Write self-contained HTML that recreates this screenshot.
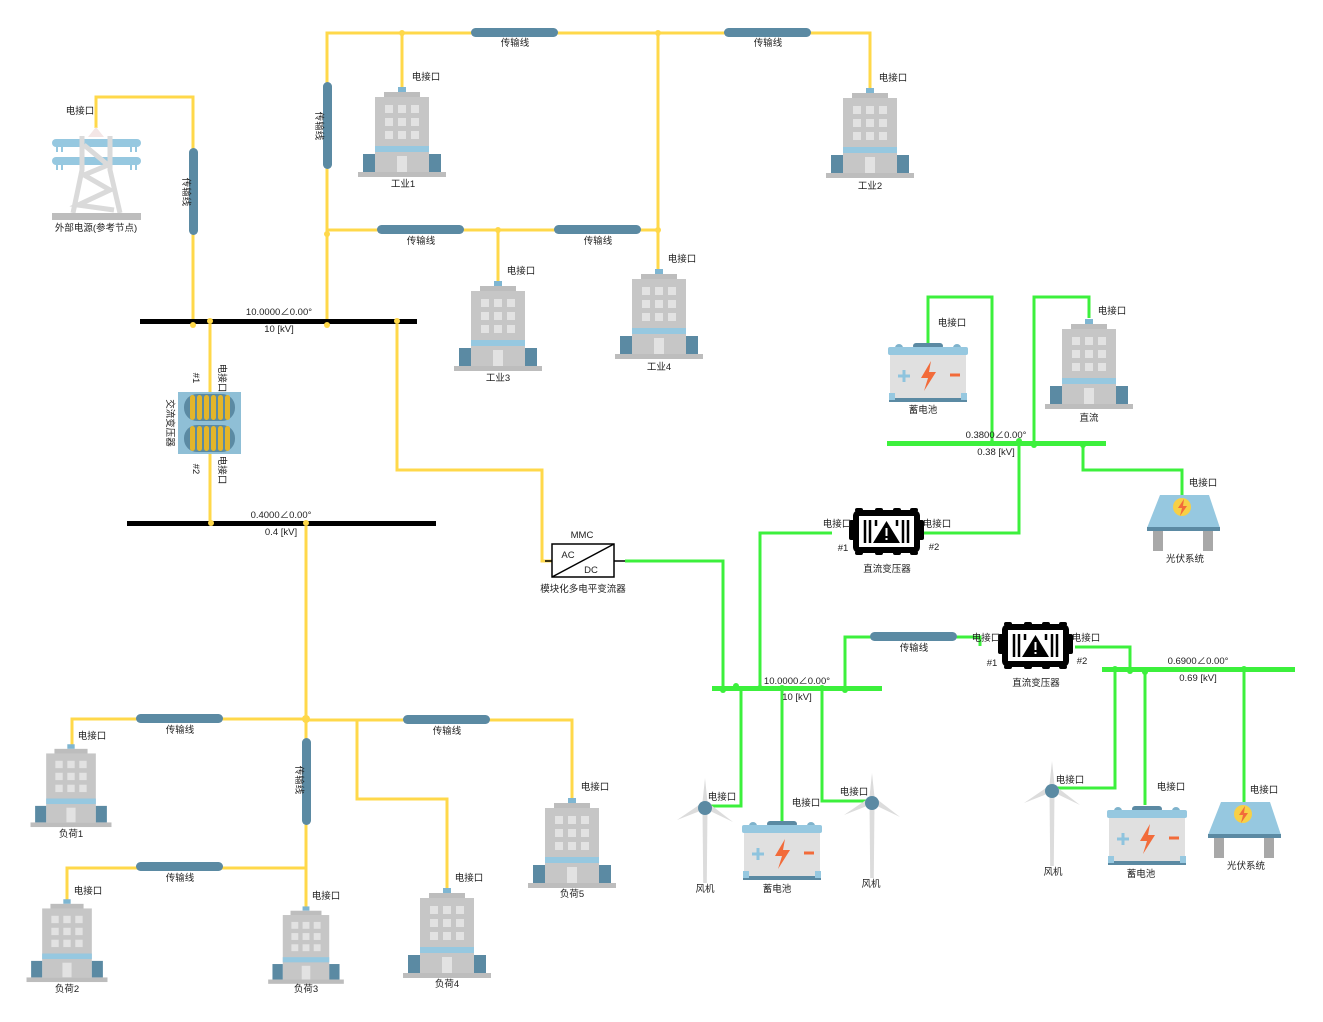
<!DOCTYPE html>
<html><head><meta charset="utf-8">
<style>
html,body{margin:0;padding:0;background:#fff;}
svg{display:block;}
text{font-family:"Liberation Sans","Noto Sans CJK SC",sans-serif;font-size:9.5px;fill:#222;}
.y{stroke:#ffd84a;stroke-width:3;fill:none;}
.g{stroke:#3cf03c;stroke-width:3;fill:none;}
.cap{fill:#5b8aa3;}
.m{text-anchor:middle;}
</style></head><body>
<svg width="1323" height="1022" viewBox="0 0 1323 1022" xmlns="http://www.w3.org/2000/svg">
<defs>
<g id="bld">
  <rect x="-4" y="-3" width="8" height="5" fill="#7fb6d2"/>
  <rect x="-18" y="2" width="36" height="6" fill="#bdbdbd"/>
  <rect x="-27" y="7" width="54" height="75" fill="#c6c6c6"/>
  <g fill="#e2e2e2">
    <rect x="-17" y="15" width="8" height="8"/><rect x="-4" y="15" width="8" height="8"/><rect x="9" y="15" width="8" height="8"/>
    <rect x="-17" y="28" width="8" height="8"/><rect x="-4" y="28" width="8" height="8"/><rect x="9" y="28" width="8" height="8"/>
    <rect x="-17" y="41" width="8" height="8"/><rect x="-4" y="41" width="8" height="8"/><rect x="9" y="41" width="8" height="8"/>
    <rect x="-5" y="66" width="10" height="16"/>
  </g>
  <rect x="-27" y="56" width="54" height="6" fill="#96c8e0"/>
  <rect x="-39" y="64" width="12" height="18" fill="#5b8aa3"/>
  <rect x="27" y="64" width="12" height="18" fill="#5b8aa3"/>
  <rect x="-44" y="82" width="88" height="5" fill="#bdbdbd"/>
</g>
<g id="bat">
  <circle cx="11" cy="5" r="4" fill="#7fb3cc"/><circle cx="69" cy="5" r="4" fill="#7fb3cc"/>
  <rect x="25" y="0" width="30" height="6" rx="3" fill="#5b8aa3"/>
  <rect x="0" y="4" width="80" height="8" rx="2" fill="#96c8e0"/>
  <rect x="2" y="12" width="76" height="44" fill="#e0e0e0"/>
  <rect x="1" y="55" width="78" height="4" fill="#5b8aa3"/>
  <rect x="1" y="50" width="6" height="7" fill="#96c8e0"/><rect x="73" y="50" width="6" height="7" fill="#96c8e0"/>
  <path d="M10 33 h12 M16 27 v12" stroke="#8fc4de" stroke-width="3"/>
  <path d="M43 18 L33 35 L40 35 L36 48 L48 29 L41 29 Z" fill="#f26b3a"/>
  <path d="M62 32 h10" stroke="#f26b3a" stroke-width="3"/>
</g>
<g id="wt">
  <path d="M-2.5 0 L2.5 0 L1.8 75 L-1.8 75 Z" fill="#dcdcdc"/>
  <path d="M0 0 L-2.5 -6 L0 -30 L2.5 -6 Z" fill="#dcdcdc"/>
  <path d="M0 0 L-5 3 L-28 12 L-6 -3 Z" fill="#dcdcdc"/>
  <path d="M0 0 L5 3 L28 14 L6 -3 Z" fill="#dcdcdc"/>
  <circle cx="0" cy="0" r="7" fill="#5b8aa3"/>
</g>
<g id="pv">
  <path d="M-22 0 H27 L38 33 H-35 Z" fill="#96c8e0"/>
  <rect x="-35" y="32" width="73" height="4" fill="#5b8aa3"/>
  <rect x="-29" y="36" width="10" height="20" fill="#a8a8a8"/>
  <rect x="21" y="36" width="10" height="20" fill="#a8a8a8"/>
  <circle cx="0" cy="12" r="9" fill="#f7d046"/>
  <path d="M2 4 L-4 13 L0 13 L-2 21 L5 11 L1 11 Z" fill="#f26b3a"/>
</g>
<g id="dct">
  <rect x="2" y="-2" width="8" height="4" rx="2" fill="#000"/><rect x="22" y="-2" width="8" height="4" rx="2" fill="#000"/><rect x="40" y="-2" width="8" height="4" rx="2" fill="#000"/><rect x="57" y="-2" width="8" height="4" rx="2" fill="#000"/>
  <rect x="2" y="41" width="8" height="4" rx="2" fill="#000"/><rect x="22" y="41" width="8" height="4" rx="2" fill="#000"/><rect x="40" y="41" width="8" height="4" rx="2" fill="#000"/><rect x="57" y="41" width="8" height="4" rx="2" fill="#000"/>
  <rect x="-4" y="10" width="6" height="20" rx="2" fill="#000"/><rect x="65" y="10" width="6" height="20" rx="2" fill="#000"/>
  <rect x="0" y="0" width="67" height="43" rx="6" fill="#000"/>
  <rect x="6" y="6" width="55" height="31" fill="#fff"/>
  <g stroke="#000" stroke-width="2.5"><path d="M12 10 V33 M17 10 V33 M50 10 V33 M55 10 V33 M23 10 V16 M44 10 V16"/></g>
  <path d="M33.5 11 L47 33 L20 33 Z" fill="#000"/>
  <rect x="32.5" y="18" width="2" height="8" fill="#fff"/><rect x="32.5" y="28" width="2" height="2" fill="#fff"/>
</g>
</defs>

<!-- ===== YELLOW AC NETWORK ===== -->
<path class="y" d="M96 128 V97 H193 V321"/>
<rect class="cap" x="189" y="148" width="9" height="87" rx="4.5"/>
<text transform="translate(183,192) rotate(90)" class="m">传输线</text>

<path class="y" d="M327 321 V33 H870 V89"/>
<rect class="cap" x="323" y="82" width="9" height="87" rx="4.5"/>
<text transform="translate(316,126) rotate(90)" class="m">传输线</text>
<rect class="cap" x="471" y="28" width="87" height="9" rx="4.5"/>
<text x="515" y="46" class="m">传输线</text>
<rect class="cap" x="724" y="28" width="87" height="9" rx="4.5"/>
<text x="768" y="46" class="m">传输线</text>
<path class="y" d="M402 33 V88"/>
<path class="y" d="M658 33 V270"/>
<path class="y" d="M327 230 H658"/>
<rect class="cap" x="377" y="225" width="87" height="9" rx="4.5"/>
<text x="421" y="244" class="m">传输线</text>
<rect class="cap" x="554" y="225" width="87" height="9" rx="4.5"/>
<text x="598" y="244" class="m">传输线</text>
<path class="y" d="M498 230 V282"/>
<g fill="#ffd84a"><circle cx="402" cy="33" r="3"/><circle cx="658" cy="33" r="3"/><circle cx="327" cy="234" r="3"/><circle cx="498" cy="230" r="3"/><circle cx="658" cy="230" r="3"/></g>

<path class="y" d="M210 321 V392 M210 454 V523"/>
<path class="y" d="M397 321 V470 H542 V561 H552"/>

<path class="y" d="M306 523 V907"/>
<rect class="cap" x="302" y="738" width="9" height="87" rx="4.5"/>
<text transform="translate(296,780) rotate(90)" class="m">传输线</text>
<path class="y" d="M306 719 H72 V745"/>
<rect class="cap" x="136" y="714" width="87" height="9" rx="4.5"/>
<text x="180" y="733" class="m">传输线</text>
<path class="y" d="M306 720 H572 V799"/>
<rect class="cap" x="403" y="715" width="87" height="9" rx="4.5"/>
<text x="447" y="734" class="m">传输线</text>
<path class="y" d="M357 720 V799 H447 V889"/>
<path class="y" d="M306 868 H67 V900"/>
<rect class="cap" x="136" y="862" width="87" height="9" rx="4.5"/>
<text x="180" y="881" class="m">传输线</text>
<circle cx="306" cy="719" r="4" fill="#ffd84a"/>

<!-- buses black -->
<rect x="140" y="319" width="277" height="5" fill="#000"/>
<text x="279" y="315" class="m">10.0000∠0.00°</text>
<text x="279" y="332" class="m">10 [kV]</text>
<rect x="127" y="521" width="309" height="5" fill="#000"/>
<text x="281" y="518" class="m">0.4000∠0.00°</text>
<text x="281" y="535" class="m">0.4 [kV]</text>
<g fill="#ffd84a"><circle cx="193" cy="325" r="3"/><circle cx="210" cy="321" r="3"/><circle cx="327" cy="325" r="3"/><circle cx="397" cy="321" r="3"/><circle cx="211" cy="523" r="3"/><circle cx="306" cy="523" r="3"/></g>

<!-- ===== GREEN DC NETWORK ===== -->
<path class="g" d="M625 561 H723 V688"/>
<path class="g" d="M760 688 V533 H832"/>
<path class="g" d="M921 533 H1019 V443"/>
<path class="g" d="M928 343 V297 H992 V443"/>
<path class="g" d="M1089 318 V297 H1034 V443"/>
<path class="g" d="M1083 443 V470 H1182 V495"/>
<path class="g" d="M845 688 V637 H980 V646"/>
<rect class="cap" x="870" y="632" width="87" height="9" rx="4.5"/>
<text x="914" y="651" class="m">传输线</text>
<path class="g" d="M1075 647 H1130 V669"/>
<path class="g" d="M1115 669 V788 H1055"/>
<path class="g" d="M1145 669 V805"/>
<path class="g" d="M1244 669 V805"/>
<path class="g" d="M741 688 V806 H710"/>
<path class="g" d="M782 688 V822"/>
<path class="g" d="M822 688 V801 H866"/>

<rect x="712" y="686" width="170" height="5" fill="#3cf03c"/>
<text x="797" y="684" class="m">10.0000∠0.00°</text>
<text x="797" y="700" class="m">10 [kV]</text>
<rect x="887" y="441" width="219" height="5" fill="#3cf03c"/>
<text x="996" y="438" class="m">0.3800∠0.00°</text>
<text x="996" y="455" class="m">0.38 [kV]</text>
<rect x="1102" y="667" width="193" height="5" fill="#3cf03c"/>
<text x="1198" y="664" class="m">0.6900∠0.00°</text>
<text x="1198" y="681" class="m">0.69 [kV]</text>

<!-- ===== COMPONENTS ===== -->
<g>
  <path d="M88 137 L96 127 L104 137 Z" fill="#f3e6e6"/>
  <rect x="52" y="139" width="89" height="8" rx="4" fill="#96c8e0"/>
  <rect x="52" y="157" width="89" height="8" rx="4" fill="#96c8e0"/>
  <g fill="#96c8e0"><rect x="56" y="147" width="2" height="5"/><rect x="61" y="147" width="2" height="5"/><rect x="130" y="147" width="2" height="5"/><rect x="135" y="147" width="2" height="5"/><rect x="56" y="165" width="2" height="5"/><rect x="61" y="165" width="2" height="5"/><rect x="130" y="165" width="2" height="5"/><rect x="135" y="165" width="2" height="5"/></g>
  <g stroke="#dadada" stroke-width="5" fill="none"><path d="M82 136 L82 170 L73 213 M110 136 L110 170 L120 213 M84 145 L108 165 L84 175 L110 190 L78 205 L114 210"/></g>
  <rect x="52" y="213" width="89" height="7" fill="#bdbdbd"/>
</g>
<text x="96" y="231" class="m">外部电源(参考节点)</text>
<text x="80" y="114" class="m">电接口</text>

<!-- AC transformer -->
<rect x="178" y="392" width="63" height="62" fill="#8fbfd6"/>
<rect x="184" y="394" width="51" height="27" rx="13" fill="#5b8aa3"/>
<rect x="184" y="425" width="51" height="27" rx="13" fill="#5b8aa3"/>
<g fill="#e3b52a"><rect x="190" y="395" width="5" height="25" rx="2.5"/><rect x="197" y="395" width="5" height="25" rx="2.5"/><rect x="204" y="395" width="5" height="25" rx="2.5"/><rect x="211" y="395" width="5" height="25" rx="2.5"/><rect x="218" y="395" width="5" height="25" rx="2.5"/><rect x="225" y="395" width="5" height="25" rx="2.5"/>
<rect x="190" y="426" width="5" height="25" rx="2.5"/><rect x="197" y="426" width="5" height="25" rx="2.5"/><rect x="204" y="426" width="5" height="25" rx="2.5"/><rect x="211" y="426" width="5" height="25" rx="2.5"/><rect x="218" y="426" width="5" height="25" rx="2.5"/><rect x="225" y="426" width="5" height="25" rx="2.5"/></g>
<text transform="translate(167,423) rotate(90)" class="m">交流变压器</text>
<text transform="translate(193,378) rotate(90)" class="m">#1</text>
<text transform="translate(193,469) rotate(90)" class="m">#2</text>
<text transform="translate(219,378) rotate(90)" class="m">电接口</text>
<text transform="translate(219,470) rotate(90)" class="m">电接口</text>

<!-- MMC -->
<rect x="552" y="544" width="62" height="33" fill="#fff" stroke="#000" stroke-width="1.5"/>
<path d="M552 577 L614 544" stroke="#000" stroke-width="1.5"/>
<path d="M614 561 H625" stroke="#000" stroke-width="1.5"/>
<path d="M545 561 H552" stroke="#000" stroke-width="1.5"/>
<text x="568" y="558" class="m">AC</text>
<text x="591" y="573" class="m">DC</text>
<text x="582" y="538" class="m">MMC</text>
<text x="583" y="592" class="m">模块化多电平变流器</text>

<!-- buildings -->
<use href="#bld" x="402" y="90"/><text x="403" y="187" class="m">工业1</text><text x="426" y="80" class="m">电接口</text>
<use href="#bld" x="870" y="91"/><text x="870" y="189" class="m">工业2</text><text x="893" y="81" class="m">电接口</text>
<use href="#bld" x="498" y="284"/><text x="498" y="381" class="m">工业3</text><text x="521" y="274" class="m">电接口</text>
<use href="#bld" x="659" y="272"/><text x="659" y="370" class="m">工业4</text><text x="682" y="262" class="m">电接口</text>
<use href="#bld" x="1089" y="322"/><text x="1089" y="421" class="m">直流</text><text x="1112" y="314" class="m">电接口</text>
<use href="#bld" transform="translate(71,747) scale(0.92)"/><text x="71" y="837" class="m">负荷1</text><text x="92" y="739" class="m">电接口</text>
<use href="#bld" transform="translate(67,902) scale(0.92)"/><text x="67" y="992" class="m">负荷2</text><text x="88" y="894" class="m">电接口</text>
<use href="#bld" transform="translate(306,909) scale(0.86)"/><text x="306" y="992" class="m">负荷3</text><text x="326" y="899" class="m">电接口</text>
<use href="#bld" x="447" y="891"/><text x="447" y="987" class="m">负荷4</text><text x="469" y="881" class="m">电接口</text>
<use href="#bld" x="572" y="801"/><text x="572" y="897" class="m">负荷5</text><text x="595" y="790" class="m">电接口</text>

<!-- batteries -->
<use href="#bat" x="888" y="343"/><text x="923" y="413" class="m">蓄电池</text><text x="952" y="326" class="m">电接口</text>
<use href="#bat" x="742" y="821"/><text x="777" y="892" class="m">蓄电池</text><text x="806" y="806" class="m">电接口</text>
<use href="#bat" x="1107" y="806"/><text x="1141" y="877" class="m">蓄电池</text><text x="1171" y="790" class="m">电接口</text>

<!-- turbines -->
<use href="#wt" x="705" y="808"/><text x="705" y="892" class="m">风机</text><text x="722" y="800" class="m">电接口</text>
<use href="#wt" x="872" y="803"/><text x="871" y="887" class="m">风机</text><text x="854" y="795" class="m">电接口</text>
<use href="#wt" x="1052" y="791"/><text x="1053" y="875" class="m">风机</text><text x="1070" y="783" class="m">电接口</text>

<!-- PV -->
<use href="#pv" x="1182" y="495"/><text x="1185" y="562" class="m">光伏系统</text><text x="1203" y="486" class="m">电接口</text>
<use href="#pv" x="1243" y="802"/><text x="1246" y="869" class="m">光伏系统</text><text x="1264" y="793" class="m">电接口</text>

<!-- DC transformers -->
<use href="#dct" x="853" y="510"/>
<text x="887" y="572" class="m">直流变压器</text><text x="843" y="551" class="m">#1</text><text x="934" y="550" class="m">#2</text>
<text x="837" y="527" class="m">电接口</text><text x="937" y="527" class="m">电接口</text>
<use href="#dct" x="1002" y="624"/>
<text x="1036" y="686" class="m">直流变压器</text><text x="992" y="666" class="m">#1</text><text x="1082" y="664" class="m">#2</text>
<text x="986" y="641" class="m">电接口</text><text x="1086" y="641" class="m">电接口</text>

<g fill="#3cf03c"><circle cx="723" cy="690" r="3"/><circle cx="736" cy="686" r="3"/><circle cx="760" cy="688" r="3"/><circle cx="782" cy="688" r="3"/><circle cx="822" cy="688" r="3"/><circle cx="845" cy="690" r="3"/><circle cx="992" cy="443" r="3"/><circle cx="1019" cy="441" r="3"/><circle cx="1034" cy="445" r="3"/><circle cx="1083" cy="445" r="3"/><circle cx="1115" cy="669" r="3"/><circle cx="1130" cy="671" r="3"/><circle cx="1145" cy="672" r="3"/><circle cx="1244" cy="669" r="3"/></g>
</svg>
</body></html>
